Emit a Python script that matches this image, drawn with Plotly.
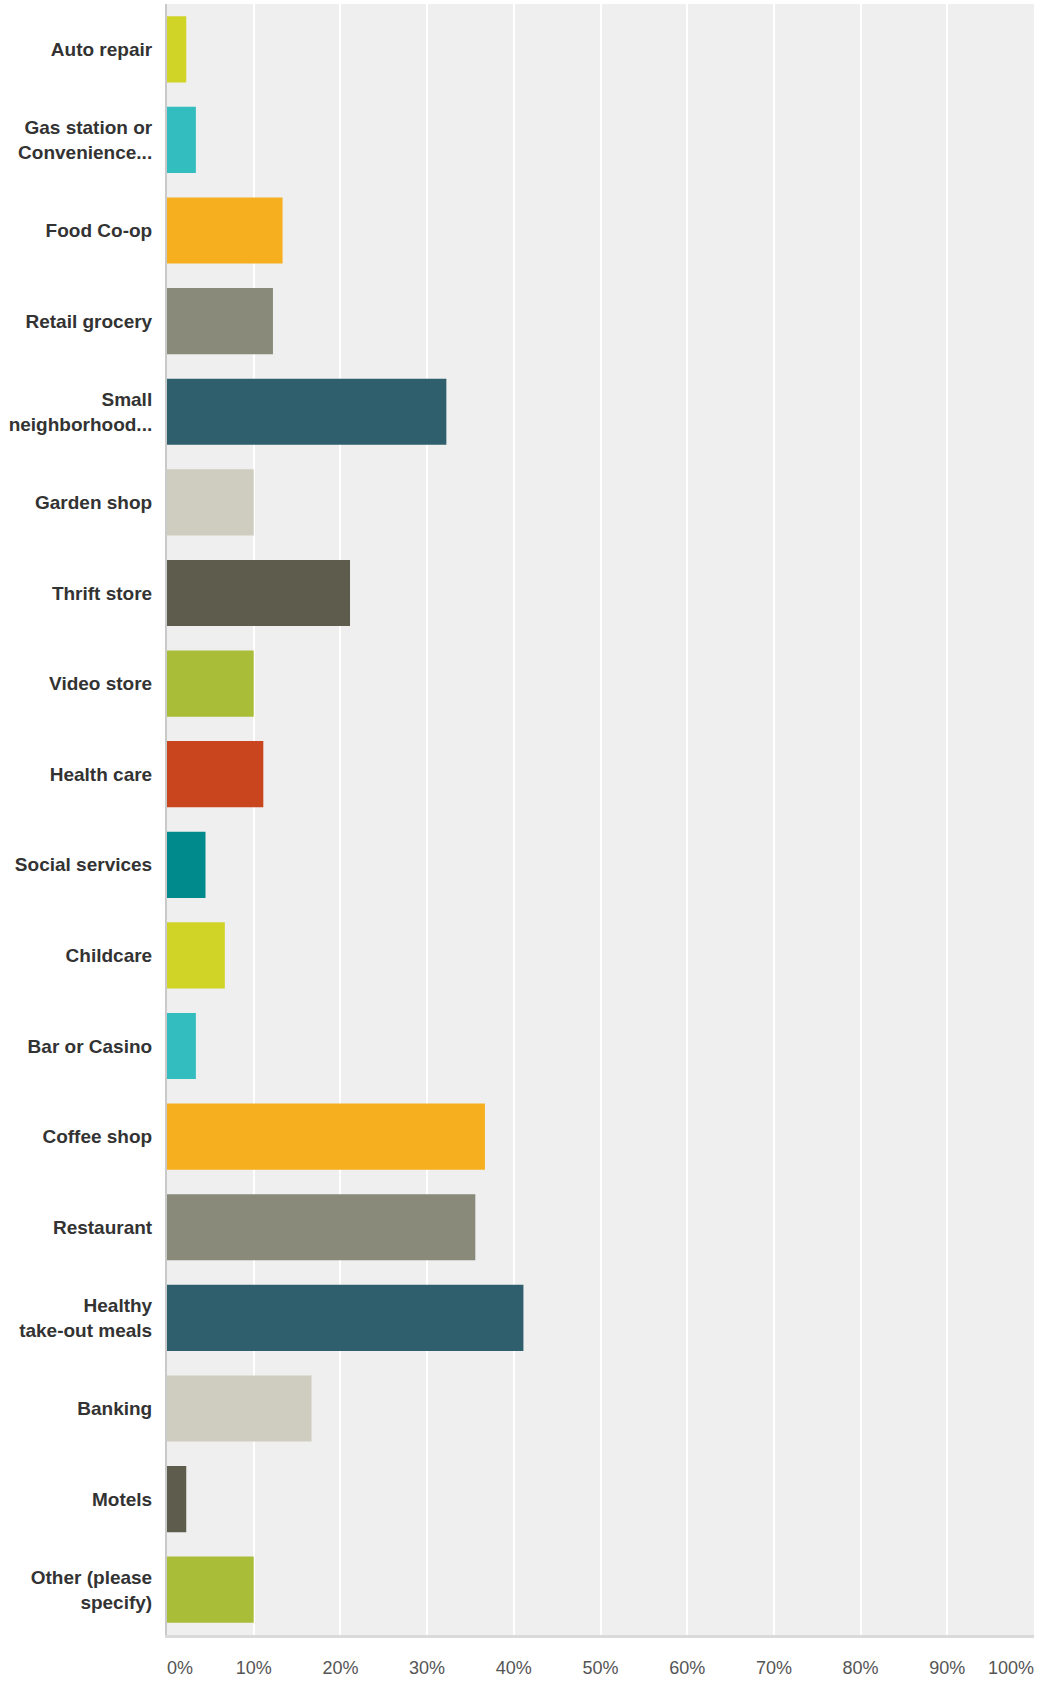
import plotly.graph_objects as go

categories = [
    "Auto repair", "Gas station or<br>Convenience...", "Food Co-op", "Retail grocery",
    "Small<br>neighborhood...", "Garden shop", "Thrift store", "Video store",
    "Health care", "Social services", "Childcare", "Bar or Casino",
    "Coffee shop", "Restaurant", "Healthy<br>take-out meals", "Banking",
    "Motels", "Other (please<br>specify)",
]
values = [2.22, 3.33, 13.33, 12.22, 32.22, 10.0, 21.11, 10.0, 11.11, 4.44,
          6.67, 3.33, 36.67, 35.56, 41.11, 16.67, 2.22, 10.0]
palette = ["#d0d427", "#33bdbe", "#f6b01f", "#898a7a", "#2f5f6d",
           "#cfcdc0", "#5e5c4d", "#aabd39", "#c9451e", "#018a8b"]
colors = [palette[i % len(palette)] for i in range(len(categories))]

tick_vals = [0, 10, 20, 30, 40, 50, 60, 70, 80, 90, 100]
tick_text = ["0%", "10%", "20%", "30%", "40%", "50%",
             "60%", "70%", "80%", "90%", "100%"]

fig = go.Figure(go.Bar(
    x=values, y=categories, orientation="h",
    marker=dict(color=colors, line=dict(width=0)),
    width=0.73, hoverinfo="x+y",
))
# empty helper traces so the overlaid edge-label axes are rendered
fig.add_trace(go.Scatter(x=[], y=[], xaxis="x2", yaxis="y", hoverinfo="skip", showlegend=False))
fig.add_trace(go.Scatter(x=[], y=[], xaxis="x3", yaxis="y", hoverinfo="skip", showlegend=False))

tickfont_x = dict(size=18, color="#555555")
edge_axis = dict(
    overlaying="x", side="bottom", anchor="y", range=[0, 100],
    ticklabelstandoff=20, showgrid=False, zeroline=False, showline=False,
    ticks="", tickfont=tickfont_x, automargin=False, fixedrange=True,
)

fig.update_layout(
    width=1041, height=1682,
    margin=dict(l=167, r=7, t=4, b=47),
    paper_bgcolor="white", plot_bgcolor="#efefef",
    showlegend=False,
    font=dict(family="Liberation Sans, Arial, sans-serif"),
    xaxis=dict(
        range=[0, 100], tickvals=tick_vals[1:-1], ticktext=tick_text[1:-1],
        showgrid=True, gridcolor="white", gridwidth=2, zeroline=False,
        showline=True, linecolor="#dadada", linewidth=3,
        ticks="", ticklabelstandoff=14, tickfont=tickfont_x,
        automargin=False, fixedrange=True,
    ),
    xaxis2=dict(edge_axis, tickvals=tick_vals[:1], ticktext=tick_text[:1],
                ticklabelposition="outside right"),
    xaxis3=dict(edge_axis, tickvals=tick_vals[-1:], ticktext=tick_text[-1:],
                ticklabelposition="outside left"),
    yaxis=dict(
        autorange="reversed", showgrid=False, zeroline=False,
        showline=True, linecolor="#c9c9c9", linewidth=2,
        ticks="", ticklabelstandoff=9,
        tickfont=dict(size=19, color="#333333", weight="bold"),
        automargin=False, fixedrange=True,
    ),
)

fig.write_html(
    "out.html",
    config={"displayModeBar": False},
    post_script="document.body.style.margin='0';document.body.style.padding='0';",
)
